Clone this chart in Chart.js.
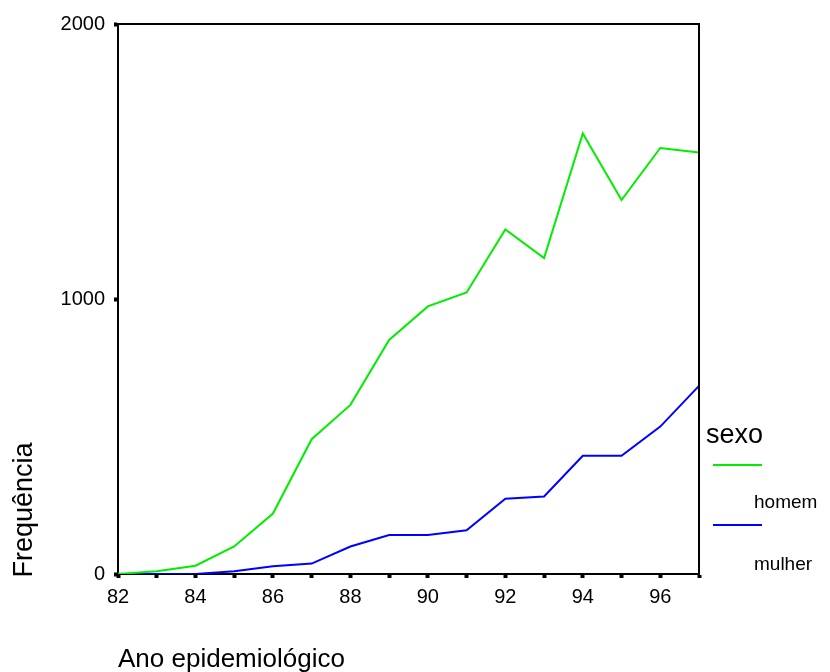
<!DOCTYPE html>
<html>
<head>
<meta charset="utf-8">
<script src="https://cdn.jsdelivr.net/npm/chart.js@4"></script>
<style>
  body { margin: 0; background: #fff; }
  canvas { display: block; }
</style>
</head>
<body>
<canvas id="lineChart" width="830" height="672"></canvas>
<script>
let years = [82, 83, 84, 85, 86, 87, 88, 89, 90, 91, 92, 93, 94, 95, 96, 97];
let homem = [0, 10, 30, 100, 220, 490, 615, 851, 973, 1024, 1253, 1149, 1602, 1360, 1549, 1533];
let mulher = [0, 0, 0, 10, 28, 38, 100, 142, 142, 159, 274, 282, 430, 430, 536, 684];
let seriesLabels = ['homem', 'mulher'];
let colorHex = ['#00ee00', '#0000ff'];

let font = '"Liberation Sans", Arial, sans-serif';

// frame, axis titles and legend drawn by hand to match the SPSS layout
let extras = {
  id: 'extras',
  afterDraw(chart) {
    let c = chart.ctx;
    let a = chart.chartArea;
    c.save();
    c.strokeStyle = '#000';
    c.lineWidth = 2;
    c.beginPath();
    c.moveTo(a.left, a.top);
    c.lineTo(a.right, a.top);
    c.lineTo(a.right, a.bottom);
    c.stroke();

    c.fillStyle = '#000';
    c.textBaseline = 'alphabetic';
    c.textAlign = 'left';
    c.font = '26px ' + font;
    c.fillText('Ano epidemiológico', 118, 667);

    c.save();
    c.translate(32, 510);
    c.rotate(-Math.PI / 2);
    c.textAlign = 'center';
    c.font = '27px ' + font;
    c.fillText('Frequência', 0, 0);
    c.restore();

    c.font = '27px ' + font;
    c.fillText('sexo', 706, 443);
    c.font = '19px ' + font;
    let rows = [[465, 508], [525, 570]];
    rows.forEach((r, i) => {
      c.strokeStyle = colorHex[i];
      c.lineWidth = 2;
      c.beginPath();
      c.moveTo(713, r[0]);
      c.lineTo(762, r[0]);
      c.stroke();
      c.fillText(seriesLabels[i], 754, r[1]);
    });
    c.restore();
  }
};

let ctx = document.getElementById('lineChart').getContext('2d');
let lineChart = new Chart(ctx, {
  type: 'line',
  data: {
    datasets: [homem, mulher].map((vals, i) => ({
      label: seriesLabels[i],
      data: years.map((y, j) => ({ x: y, y: vals[j] })),
      borderColor: colorHex[i],
      borderWidth: 2,
      pointRadius: 0,
      tension: 0,
      fill: false
    }))
  },
  options: {
    responsive: false,
    animation: false,
    layout: { padding: { top: 24, right: 131, left: 0, bottom: 0 } },
    plugins: {
      legend: { display: false },
      tooltip: { enabled: false }
    },
    scales: {
      x: {
        type: 'linear',
        min: 82,
        max: 97,
        afterFit: s => { s.height = 98; },
        border: { color: '#000', width: 2 },
        grid: { drawOnChartArea: false, color: '#000', tickLength: 4, tickWidth: 4 },
        ticks: {
          stepSize: 1,
          autoSkip: false,
          maxRotation: 0,
          padding: 7,
          color: '#000',
          font: { family: font, size: 20 },
          callback: v => (v % 2 === 0 ? String(v) : '')
        }
      },
      y: {
        min: 0,
        max: 2000,
        afterFit: s => { s.width = 118; },
        border: { color: '#000', width: 2 },
        grid: { drawOnChartArea: false, color: '#000', tickLength: 4, tickWidth: 4 },
        ticks: {
          stepSize: 1000,
          padding: 9,
          color: '#000',
          font: { family: font, size: 20 },
          callback: v => String(v)
        }
      }
    }
  },
  plugins: [extras]
});
</script>
</body>
</html>
